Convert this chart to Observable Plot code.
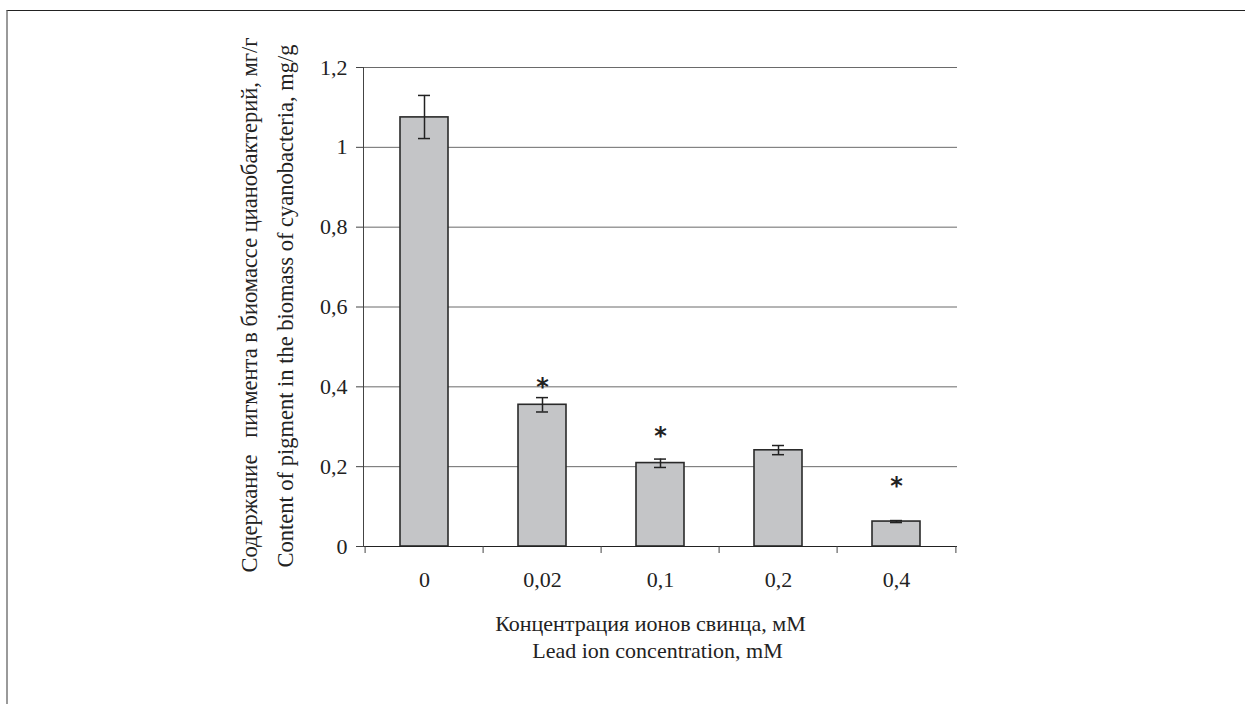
<!DOCTYPE html>
<html>
<head>
<meta charset="utf-8">
<script src="https://cdn.jsdelivr.net/npm/d3@7"></script>
<script src="https://cdn.jsdelivr.net/npm/@observablehq/plot@0.6"></script>
<style>
  html, body { margin: 0; padding: 0; background: #fff; }
  #wrap { position: relative; width: 1245px; height: 704px; overflow: hidden; }
  #border { position: absolute; left: 6px; top: 10px; right: -5px; bottom: -5px;
            border-top: 1.5px solid #222; border-left: 2px solid #9a9a9a; pointer-events: none; }
  svg text { white-space: pre; }
</style>
</head>
<body>
<div id="wrap"><div id="border"></div></div>
<script>
// ---- data ----
const concentrations = ["0", "0,02", "0,1", "0,2", "0,4"];
const pigment = [1.075, 0.355, 0.209, 0.241, 0.0625];
const errLow  = [1.022, 0.337, 0.198, 0.230, 0.060];
const errHigh = [1.130, 0.373, 0.219, 0.253, 0.065];
const sigConc = ["0,02", "0,1", "0,4"];
const sigY = [0.40, 0.275, 0.15];
const yTicks = [0, 0.2, 0.4, 0.6, 0.8, 1.0, 1.2];
const yTitle1 = "Содержание   пигмента в биомассе цианобактерий, мг/г";
const yTitle2 = "Content of pigment in the biomass of cyanobacteria, mg/g";
const xTitle1 = "Концентрация ионов свинца, мМ";
const xTitle2 = "Lead ion concentration, mM";

const rows = concentrations.map((c, i) => ({c, v: pigment[i], lo: errLow[i], hi: errHigh[i]}));
const sig = sigConc.map((c, i) => ({c, y: sigY[i]}));

const W = 1245, H = 704, mL = 363, mR = 288, mT = 67, mB = 158;
const step = (W - mL - mR) / concentrations.length;
const fmt = d => String(+d.toFixed(1)).replace(".", ",");

const chart = Plot.plot({
  width: W, height: H,
  marginLeft: mL, marginRight: mR, marginTop: mT, marginBottom: mB,
  style: {fontFamily: "'Liberation Serif', 'Times New Roman', serif", fontSize: "22px", background: "transparent", color: "#222"},
  x: {type: "band", domain: concentrations, paddingInner: 0.595, paddingOuter: 0.2975, label: null},
  y: {domain: [0, 1.2], label: null},
  marks: [
    Plot.gridY(yTicks, {stroke: "#6a6a6a", strokeOpacity: 1, strokeWidth: 1}),
    Plot.barY(rows, {x: "c", y: "v", fill: "#c4c5c7", stroke: "#2a2a2a", strokeWidth: 1.6}),
    Plot.ruleX(rows, {x: "c", y1: "lo", y2: "hi", stroke: "#222", strokeWidth: 1.5}),
    Plot.tickY(rows, {x: "c", y: "lo", stroke: "#222", strokeWidth: 1.5, insetLeft: 18, insetRight: 18}),
    Plot.tickY(rows, {x: "c", y: "hi", stroke: "#222", strokeWidth: 1.5, insetLeft: 18, insetRight: 18}),
    Plot.text(sig, {x: "c", y: "y", text: () => "*", fontSize: 24, fontWeight: "bold", fontFamily: "DejaVu Sans", fill: "#222"}),
    Plot.ruleY([0], {stroke: "#222", strokeWidth: 1.2}),
    Plot.frame({anchor: "left", stroke: "#444"}),
    Plot.axisY(yTicks, {tickSize: 7, tickPadding: 9, tickFormat: fmt, stroke: "#444", fill: "#222"}),
    Plot.axisX({tickSize: 7, tickFormat: () => "", dx: -step / 2, stroke: "#444"}),
    Plot.axisX([concentrations[concentrations.length - 1]], {tickSize: 7, tickFormat: () => "", dx: step / 2, stroke: "#444"}),
    Plot.axisX({tickSize: 0, tickPadding: 25, fill: "#222"}),
    Plot.text([yTitle1], {frameAnchor: "left", textAnchor: "middle", rotate: -90, dx: -114, dy: -2, fontSize: 22.5, fill: "#222"}),
    Plot.text([yTitle2], {frameAnchor: "left", textAnchor: "middle", rotate: -90, dx: -78, dy: -1, fontSize: 22.5, fill: "#222"}),
    Plot.text([xTitle1], {frameAnchor: "bottom", dy: 84, dx: -10, fontSize: 22, fill: "#222"}),
    Plot.text([xTitle2], {frameAnchor: "bottom", dy: 111, dx: -3, fontSize: 22, fill: "#222"})
  ]
});
chart.style.position = "absolute";
chart.style.left = "0";
chart.style.top = "0";
document.getElementById("wrap").prepend(chart);
</script>
</body>
</html>
